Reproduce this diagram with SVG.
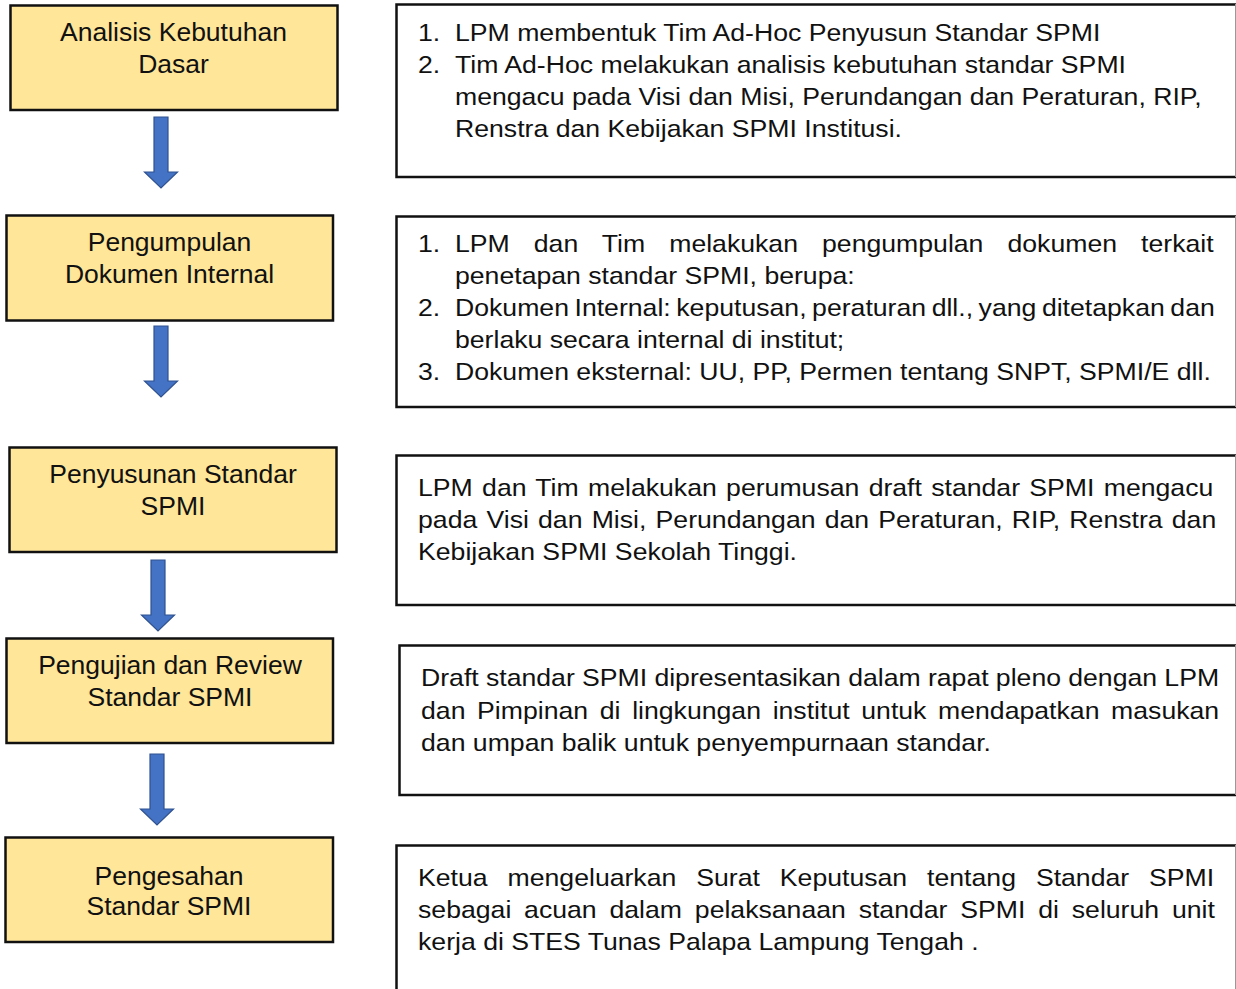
<svg xmlns="http://www.w3.org/2000/svg" width="1236" height="989" viewBox="0 0 1236 989">
<style>
.step{fill:#FFE699;stroke:#111;stroke-width:2.5}
.desc{fill:#fff;stroke:#111;stroke-width:2.5}
.lt{font-family:"Liberation Sans",Arial,sans-serif;font-size:26.5px;fill:#111;text-anchor:middle}
.rt{font-family:"Liberation Sans",Arial,sans-serif;font-size:24px;fill:#111}
.arr{fill:#4472C4;stroke:#2F528F;stroke-width:1.2}
.edge{stroke:#999;stroke-width:1}
</style>
<defs>
<path id="arrow" d="M-7,0 H7 V55 H16.5 L0,71 L-16.5,55 H-7 Z"/>
</defs>
<rect width="1236" height="989" fill="#fff"/>

<g id="connectors">
<use href="#arrow" class="arr" x="161" y="117"/>
<use href="#arrow" class="arr" x="161" y="326"/>
<use href="#arrow" class="arr" x="158" y="560"/>
<use href="#arrow" class="arr" x="157" y="754"/>
</g>

<g id="step1">
<rect class="step" x="10.5" y="5.5" width="327" height="104.5"/>
<text class="lt" x="173.5" y="40.5">Analisis Kebutuhan</text>
<text class="lt" x="173.5" y="72.5">Dasar</text>
</g>
<g id="step2">
<rect class="step" x="6.5" y="215.5" width="326.5" height="105"/>
<text class="lt" x="169.5" y="250.5">Pengumpulan</text>
<text class="lt" x="169.5" y="282.5">Dokumen Internal</text>
</g>
<g id="step3">
<rect class="step" x="9.5" y="447.5" width="327" height="104.5"/>
<text class="lt" x="173" y="482.5">Penyusunan Standar</text>
<text class="lt" x="173" y="514.5">SPMI</text>
</g>
<g id="step4">
<rect class="step" x="6.5" y="638.5" width="326.5" height="104.5"/>
<text class="lt" x="170" y="673.5">Pengujian dan Review</text>
<text class="lt" x="170" y="705.5">Standar SPMI</text>
</g>
<g id="step5">
<rect class="step" x="5.5" y="837.5" width="327.5" height="104.5"/>
<text class="lt" x="169" y="884.5">Pengesahan</text>
<text class="lt" x="169" y="914.5">Standar SPMI</text>
</g>

<g id="desc1">
<rect class="desc" x="396.5" y="4.5" width="845" height="172.5"/>
<line class="edge" x1="1235.5" y1="4" x2="1235.5" y2="177"/>
<g transform="scale(1.11,1)" class="rt">
<text x="376.6" y="41">1.</text><text x="409.9" y="41">LPM membentuk Tim Ad-Hoc Penyusun Standar SPMI</text>
<text x="376.6" y="73">2.</text><text x="409.9" y="73">Tim Ad-Hoc melakukan analisis kebutuhan standar SPMI</text>
<text x="409.9" y="105">mengacu pada Visi dan Misi, Perundangan dan Peraturan, RIP,</text>
<text x="409.9" y="137">Renstra dan Kebijakan SPMI Institusi.</text>
</g>
</g>

<g id="desc2">
<rect class="desc" x="396.5" y="216.5" width="845" height="190.5"/>
<line class="edge" x1="1235.5" y1="216" x2="1235.5" y2="407"/>
<g transform="scale(1.11,1)" class="rt">
<text x="376.6" y="252">1.</text><text x="409.9" y="252" word-spacing="15">LPM dan Tim melakukan pengumpulan dokumen terkait</text>
<text x="409.9" y="284">penetapan standar SPMI, berupa:</text>
<text x="376.6" y="316">2.</text><text x="409.9" y="316" word-spacing="-1.67">Dokumen Internal: keputusan, peraturan dll., yang ditetapkan dan</text>
<text x="409.9" y="348">berlaku secara internal di institut;</text>
<text x="376.6" y="380">3.</text><text x="409.9" y="380">Dokumen eksternal: UU, PP, Permen tentang SNPT, SPMI/E dll.</text>
</g>
</g>

<g id="desc3">
<rect class="desc" x="396.5" y="455.5" width="845" height="149.5"/>
<line class="edge" x1="1235.5" y1="455" x2="1235.5" y2="605"/>
<g transform="scale(1.11,1)" class="rt">
<text x="376.6" y="496" word-spacing="1.72">LPM dan Tim melakukan perumusan draft standar SPMI mengacu</text>
<text x="376.6" y="528" word-spacing="1.61">pada Visi dan Misi, Perundangan dan Peraturan, RIP, Renstra dan</text>
<text x="376.6" y="560">Kebijakan SPMI Sekolah Tinggi.</text>
</g>
</g>

<g id="desc4">
<rect class="desc" x="399.5" y="645.5" width="842" height="149.5"/>
<line class="edge" x1="1235.5" y1="645" x2="1235.5" y2="795"/>
<g transform="scale(1.11,1)" class="rt">
<text x="379.3" y="686" word-spacing="-0.14">Draft standar SPMI dipresentasikan dalam rapat pleno dengan LPM</text>
<text x="379.3" y="719" word-spacing="3.84">dan Pimpinan di lingkungan institut untuk mendapatkan masukan</text>
<text x="379.3" y="751">dan umpan balik untuk penyempurnaan standar.</text>
</g>
</g>

<g id="desc5">
<rect class="desc" x="396.5" y="845.5" width="845" height="160"/>
<line class="edge" x1="1235.5" y1="845" x2="1235.5" y2="989"/>
<g transform="scale(1.11,1)" class="rt">
<text x="376.6" y="886" word-spacing="11.3">Ketua mengeluarkan Surat Keputusan tentang Standar SPMI</text>
<text x="376.6" y="918" word-spacing="4.88">sebagai acuan dalam pelaksanaan standar SPMI di seluruh unit</text>
<text x="376.6" y="950">kerja di STES Tunas Palapa Lampung Tengah .</text>
</g>
</g>
</svg>
